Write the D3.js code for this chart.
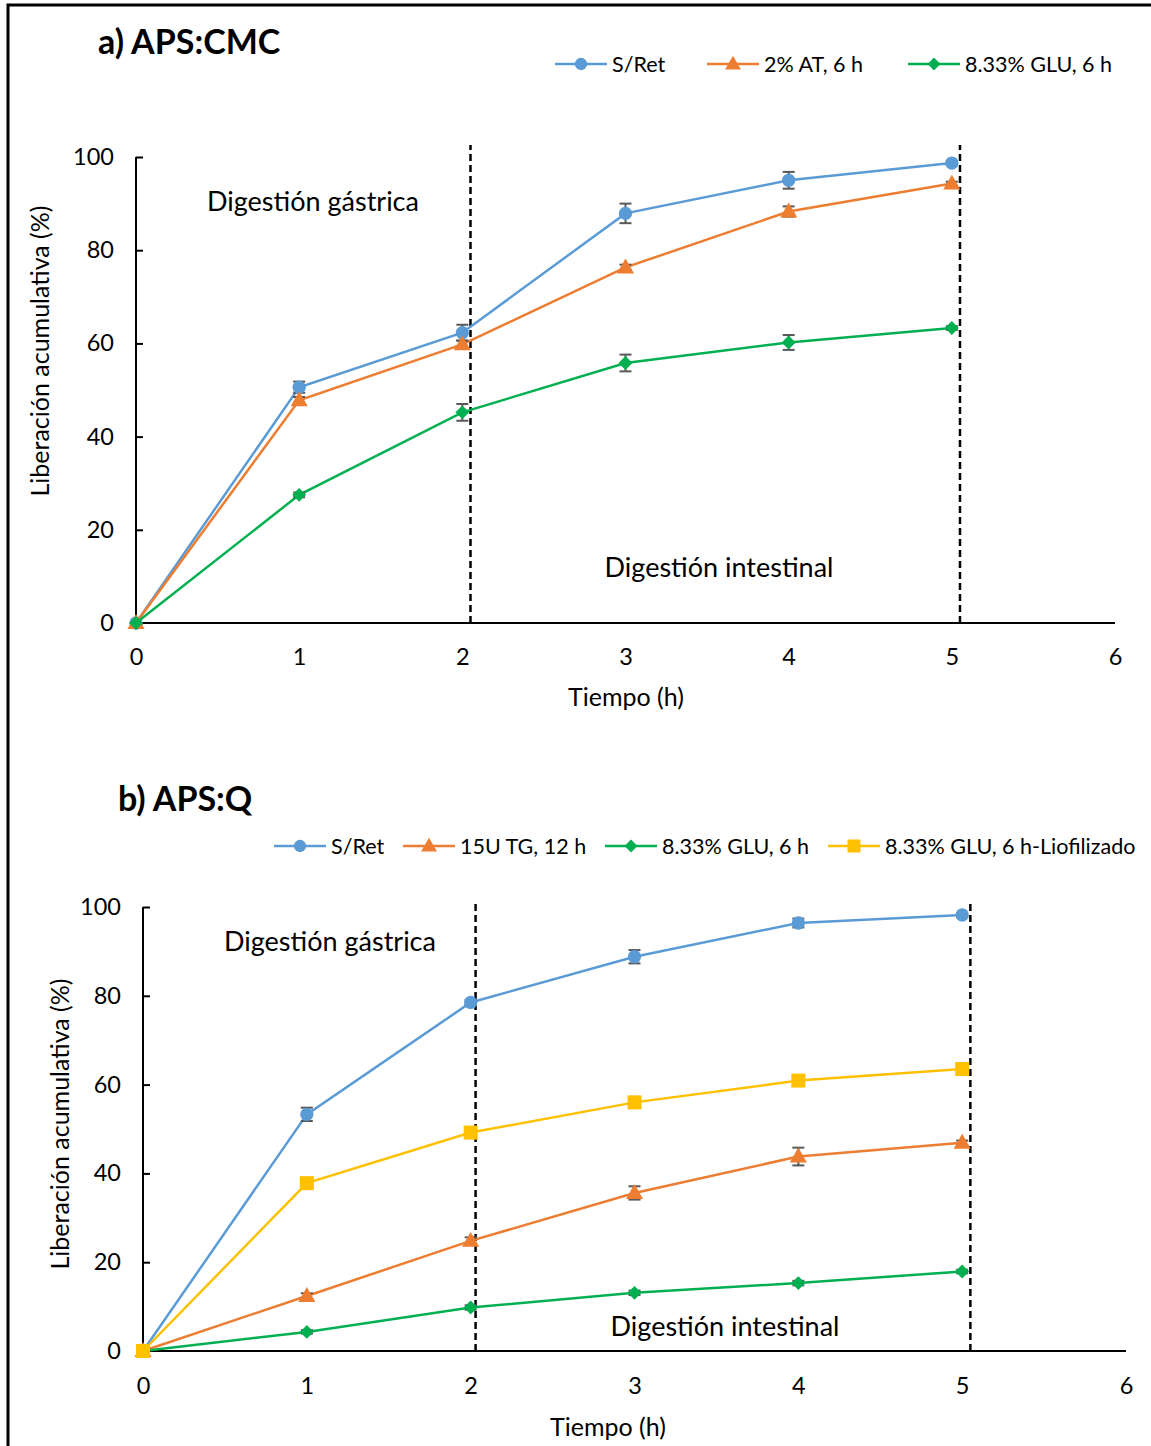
<!DOCTYPE html>
<html>
<head>
<meta charset="utf-8">
<script src="https://cdn.jsdelivr.net/npm/d3@7"></script>
<style>
  body { margin: 0; background: #fff; }
  svg text { font-family: Lato, "Open Sans", sans-serif; fill: #000; }
</style>
</head>
<body>
<div id="chart"></div>
<script>
'use strict';

// shared data
var hours = [0, 1, 2, 3, 4, 5];
var xTicks = [0, 1, 2, 3, 4, 5, 6];
var yTicks = [0, 20, 40, 60, 80, 100];

// a) APS:CMC
var aNames = ["S/Ret", "2% AT, 6 h", "8.33% GLU, 6 h"];
var aSRet = [0, 50.6, 62.3, 87.9, 95.0, 98.7];
var aSRetErr = [0, 1.2, 1.7, 2.1, 1.8, 0.4];
var aAT = [0, 47.8, 59.8, 76.3, 88.3, 94.3];
var aATErr = [0, 0.7, 0.8, 0.6, 1.1, 0.4];
var aGLU = [0, 27.5, 45.2, 55.8, 60.2, 63.3];
var aGLUErr = [0, 0.5, 1.8, 1.8, 1.6, 0.4];
var aDivider = [2.05, 5.05];

// b) APS:Q
var bNames = ["S/Ret", "15U TG, 12 h", "8.33% GLU, 6 h", "8.33% GLU, 6 h-Liofilizado"];
var bSRet = [0, 53.3, 78.5, 88.8, 96.4, 98.2];
var bSRetErr = [0, 1.5, 0.6, 1.5, 1.0, 0.4];
var bTG = [0, 12.4, 24.8, 35.6, 43.8, 46.9];
var bTGErr = [0, 0.6, 0.8, 1.5, 2.0, 0.5];
var bGLU = [0, 4.3, 9.8, 13.1, 15.3, 17.9];
var bGLUErr = [0, 0.4, 0.5, 0.5, 0.5, 0.4];
var bLio = [0, 37.8, 49.2, 56.0, 60.9, 63.5];
var bLioErr = [0, 0.5, 0.5, 0.5, 0.6, 0.5];
var bDivider = [2.03, 5.05];

var colors = {blue: "#5B9BD5", orange: "#ED7D31", green: "#00B050", yellow: "#FFC000"};
var errColor = "#595959";

var svg = d3.select("#chart").append("svg")
  .attr("width", 1151)
  .attr("height", 1446);

// outer frame
svg.append("rect")
  .attr("x", 8).attr("y", 5)
  .attr("width", 1160).attr("height", 1460)
  .attr("fill", "none").attr("stroke", "#000").attr("stroke-width", 3);

function marker(sel, shape, color, size) {
  if (shape === "circle") {
    sel.append("circle").attr("r", size * 0.95).attr("fill", color);
  } else if (shape === "triangle") {
    sel.append("path").attr("d", d3.symbol().type(d3.symbolTriangle).size(size * size * 2.6)()).attr("fill", color)
      .attr("transform", "translate(0,1)");
  } else if (shape === "diamond") {
    sel.append("path").attr("d", d3.symbol().type(d3.symbolDiamond2).size(size * size * 2.5)()).attr("fill", color);
  } else {
    sel.append("rect").attr("x", -size).attr("y", -size).attr("width", size * 2).attr("height", size * 2).attr("fill", color);
  }
}

function drawChart(cfg) {
  var x = d3.scaleLinear().domain([0, 6]).range(cfg.xRange);
  var y = d3.scaleLinear().domain([0, 100]).range(cfg.yRange);
  var g = svg.append("g");

  // title
  g.append("text")
    .attr("x", cfg.title.x).attr("y", cfg.title.y)
    .style("font-size", "34px").style("font-weight", "bold")
    .text(cfg.title.text);

  // legend
  cfg.series.forEach(function (s, i) {
    var lx = cfg.legend.x[i], ly = cfg.legend.y;
    var lg = g.append("g");
    lg.append("line").attr("x1", lx).attr("x2", lx + 52).attr("y1", ly).attr("y2", ly)
      .attr("stroke", s.color).attr("stroke-width", 2.5);
    marker(lg.append("g").attr("transform", "translate(" + (lx + 26) + "," + ly + ")"), s.shape, s.color, 6.5);
    lg.append("text").attr("x", lx + 57).attr("y", ly).attr("dy", "0.35em")
      .style("font-size", "21.5px").text(s.name);
  });

  // axes
  var yAxis = d3.axisLeft(y).tickValues(yTicks).tickSize(-7).tickPadding(22).tickFormat(d3.format("d"));
  var ya = g.append("g").attr("transform", "translate(" + x(0) + ",0)").call(yAxis);
  var xAxis = d3.axisBottom(x).tickValues(xTicks).tickSize(0).tickPadding(cfg.xTickPad).tickFormat(d3.format("d"));
  var xa = g.append("g").attr("transform", "translate(0," + y(0) + ")").call(xAxis);
  [ya, xa].forEach(function (a) {
    a.select(".domain").attr("stroke", "#000").attr("stroke-width", 2);
    a.selectAll(".tick line").attr("stroke", "#000").attr("stroke-width", 2);
    a.selectAll(".tick text").style("font-size", "23.5px").style("font-family", "Lato, 'Open Sans', sans-serif").attr("fill", "#000");
  });
  ya.select(".domain").attr("d", "M0," + y(0) + "V" + y(100));
  xa.select(".domain").attr("d", "M" + x(0) + ",0H" + x(6));

  // axis titles
  g.append("text")
    .attr("transform", "translate(" + cfg.yTitleX + "," + cfg.yTitleY + ") rotate(-90)")
    .attr("text-anchor", "middle").attr("dy", "0.35em")
    .style("font-size", "25px")
    .text("Liberación acumulativa (%)");
  g.append("text")
    .attr("x", cfg.xTitleX).attr("y", cfg.xTitleY)
    .attr("text-anchor", "middle").attr("dy", "0.35em")
    .style("font-size", "25px")
    .text("Tiempo (h)");

  // phase dividers
  cfg.divider.forEach(function (d) {
    g.append("line")
      .attr("x1", x(d)).attr("x2", x(d))
      .attr("y1", y(0)).attr("y2", y(cfg.dividerTop))
      .attr("stroke", "#000").attr("stroke-width", 2.5)
      .attr("stroke-dasharray", "7,4");
  });

  // annotations
  g.append("text").attr("x", cfg.gastric.x).attr("y", cfg.gastric.y)
    .attr("text-anchor", "middle").attr("dy", "0.35em")
    .style("font-size", "27px").text("Digestión gástrica");
  g.append("text").attr("x", cfg.intest.x).attr("y", cfg.intest.y)
    .attr("text-anchor", "middle").attr("dy", "0.35em")
    .style("font-size", "27px").text("Digestión intestinal");

  var line = d3.line().x(function (d, i) { return x(hours[i]); }).y(function (d) { return y(d); });

  cfg.series.forEach(function (s) {
    var sg = g.append("g");
    sg.append("path").attr("d", line(s.values))
      .attr("fill", "none").attr("stroke", s.color).attr("stroke-width", 2.5);
    // error bars
    s.values.forEach(function (v, i) {
      var e = s.err[i];
      if (!e) return;
      var cx = x(hours[i]);
      var eb = sg.append("g").attr("stroke", errColor).attr("stroke-width", 2);
      eb.append("line").attr("x1", cx).attr("x2", cx).attr("y1", y(v - e)).attr("y2", y(v + e));
      eb.append("line").attr("x1", cx - 6).attr("x2", cx + 6).attr("y1", y(v - e)).attr("y2", y(v - e));
      eb.append("line").attr("x1", cx - 6).attr("x2", cx + 6).attr("y1", y(v + e)).attr("y2", y(v + e));
    });
    s.values.forEach(function (v, i) {
      marker(sg.append("g").attr("transform", "translate(" + x(hours[i]) + "," + y(v) + ")"), s.shape, s.color, 7);
    });
  });
}

drawChart({
  xRange: [136, 1115],
  yRange: [623, 157],
  title: {x: 98, y: 54, text: "a) APS:CMC"},
  legend: {x: [555, 707, 908], y: 64},
  yTitleX: 40,
  yTitleY: 351,
  xTitleX: 626,
  xTitleY: 697,
  xTickPad: 25,
  divider: aDivider,
  dividerTop: 102.6,
  gastric: {x: 313, y: 202},
  intest: {x: 719, y: 568},
  series: [
    {name: aNames[0], values: aSRet, err: aSRetErr, color: colors.blue, shape: "circle"},
    {name: aNames[1], values: aAT, err: aATErr, color: colors.orange, shape: "triangle"},
    {name: aNames[2], values: aGLU, err: aGLUErr, color: colors.green, shape: "diamond"}
  ]
});

drawChart({
  xRange: [143, 1126],
  yRange: [1351, 907],
  title: {x: 118, y: 811, text: "b) APS:Q"},
  legend: {x: [274, 403, 605, 828], y: 846},
  yTitleX: 60,
  yTitleY: 1124,
  xTitleX: 608,
  xTitleY: 1427,
  xTickPad: 26,
  divider: bDivider,
  dividerTop: 101.2,
  gastric: {x: 330, y: 942},
  intest: {x: 725, y: 1327},
  series: [
    {name: bNames[0], values: bSRet, err: bSRetErr, color: colors.blue, shape: "circle"},
    {name: bNames[1], values: bTG, err: bTGErr, color: colors.orange, shape: "triangle"},
    {name: bNames[2], values: bGLU, err: bGLUErr, color: colors.green, shape: "diamond"},
    {name: bNames[3], values: bLio, err: bLioErr, color: colors.yellow, shape: "square"}
  ]
});
</script>
</body>
</html>
